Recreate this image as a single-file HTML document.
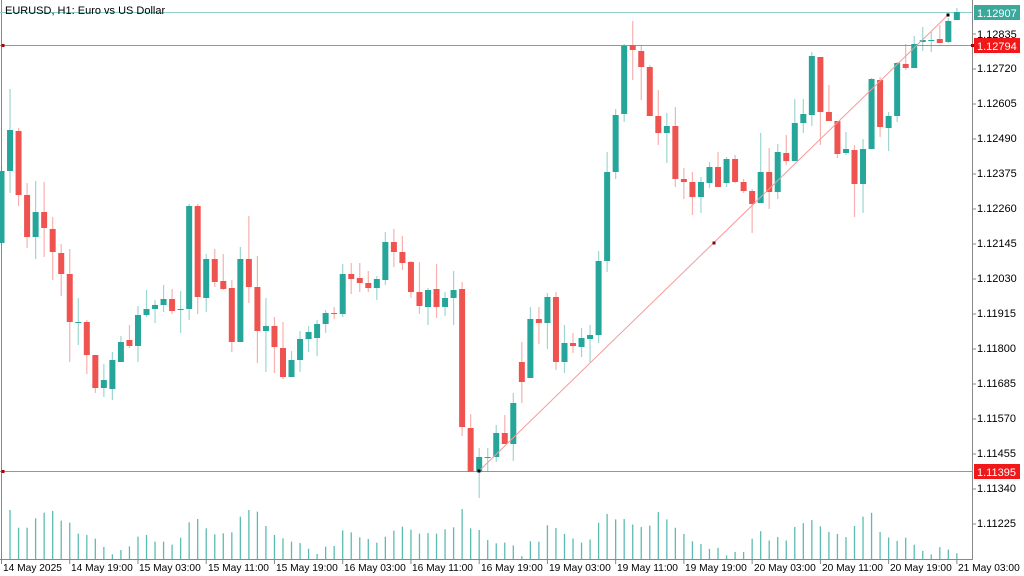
<!DOCTYPE html>
<html><head><meta charset="utf-8"><style>
html,body{margin:0;padding:0;background:#fff;width:1024px;height:576px;overflow:hidden}
svg{display:block;font-family:"Liberation Sans",Tahoma,sans-serif;font-size:11px}
</style></head><body>
<svg id="s" width="1024" height="576" xmlns="http://www.w3.org/2000/svg">
<rect x="0" y="0" width="1024" height="576" fill="#fff"/>
<line x1="1.5" y1="0" x2="1.5" y2="559" stroke="#888" stroke-width="1"/>
<line x1="972.5" y1="0" x2="972.5" y2="559" stroke="#888" stroke-width="1"/>
<line x1="0" y1="559.5" x2="973" y2="559.5" stroke="#888" stroke-width="1"/>
<line x1="0" y1="12.5" x2="972" y2="12.5" stroke="#8fd0c8" stroke-width="1"/>
<line x1="0" y1="45.5" x2="972" y2="45.5" stroke="#f07070" stroke-width="1"/>
<line x1="0" y1="471.5" x2="972" y2="471.5" stroke="#f07070" stroke-width="1"/>
<g id="c"></g>
<line x1="479" y1="471" x2="948" y2="15" stroke="#f49a9a" stroke-width="1"/>
<rect x="477.5" y="469.5" width="3" height="3" fill="#000"/>
<rect x="946.5" y="13.5" width="3" height="3" fill="#000"/>
<rect x="712.5" y="241.5" width="3" height="3" fill="#800"/>
<rect x="1.5" y="44" width="3" height="3" fill="#a00"/>
<rect x="1.5" y="470" width="3" height="3" fill="#a00"/>
<rect x="971" y="44" width="3" height="3" fill="#a00"/>
<text x="5" y="14" fill="#000">EURUSD, H1:  Euro vs US Dollar</text>
<g fill="#000" id="ax">
<text x="977" y="38">1.12835</text>
<text x="977" y="72">1.12720</text>
<text x="977" y="107">1.12605</text>
<text x="977" y="142">1.12490</text>
<text x="977" y="177">1.12375</text>
<text x="977" y="212">1.12260</text>
<text x="977" y="247">1.12145</text>
<text x="977" y="282">1.12030</text>
<text x="977" y="317">1.11915</text>
<text x="977" y="352">1.11800</text>
<text x="977" y="387">1.11685</text>
<text x="977" y="422">1.11570</text>
<text x="977" y="457">1.11455</text>
<text x="977" y="492">1.11340</text>
<text x="977" y="527">1.11225</text>
</g>
<rect x="974" y="5" width="46" height="15" fill="#3aa99c"/>
<text x="977" y="17" fill="#fff">1.12907</text>
<rect x="974" y="38" width="46" height="15" fill="#f01818"/>
<text x="977" y="50" fill="#fff">1.12794</text>
<rect x="974" y="464" width="46" height="15" fill="#f01818"/>
<text x="977" y="476" fill="#fff">1.11395</text>
<g fill="#000" id="tx" style="font-size:10.2px">
<text x="3" y="571">14 May 2025</text>
<text x="71" y="571">14 May 19:00</text>
<text x="139" y="571">15 May 03:00</text>
<text x="208" y="571">15 May 11:00</text>
<text x="276" y="571">15 May 19:00</text>
<text x="344" y="571">16 May 03:00</text>
<text x="412" y="571">16 May 11:00</text>
<text x="481" y="571">16 May 19:00</text>
<text x="549" y="571">19 May 03:00</text>
<text x="617" y="571">19 May 11:00</text>
<text x="685" y="571">19 May 19:00</text>
<text x="754" y="571">20 May 03:00</text>
<text x="822" y="571">20 May 11:00</text>
<text x="890" y="571">20 May 19:00</text>
<text x="958" y="571">21 May 03:00</text>
</g>
</svg>
<script>
var d="g171,243,165,243;g130,171,89,193;r131,195,128,206;r195,237,183,248;g212,237,181,259;r212,228,182,257;r229,252,217,280;r253,274,244,296;r274,322,249,362;g322,323,298,345;r322,355,320,374;r355,388,355,393;g380,388,364,397;g360,389,352,400;g342,362,336,362;r340,346,325,348;g315,346,306,362;g309,315,290,317;g305,309,300,323;g299,305,285,312;r299,311,289,314;g309,310,291,333;g206,309,204,320;r206,297,204,314;g259,298,254,312;r259,282,249,287;r281,289,254,290;r288,342,280,352;g259,342,247,342;r259,287,216,303;r287,331,256,363;g326,331,298,372;r326,347,317,373;r348,377,322,379;g360,377,351,377;g339,360,331,372;g332,339,326,352;g324,338,320,356;g313,324,310,333;r313,314,307,319;g274,314,264,317;r274,279,263,294;r278,283,263,292;r283,288,271,292;g279,288,276,300;g242,280,232,285;r242,252,229,267;r252,263,236,270;r262,292,261,298;r292,306,262,314;g290,307,288,325;r289,307,264,318;g298,307,292,316;g290,298,271,325;r289,427,282,436;r428,472,414,472;g457,472,448,498;g457,458,448,472;g433,457,425,462;r433,444,415,444;g403,444,393,461;r362,382,342,403;g319,378,307,378;r319,323,307,344;g297,323,293,349;r297,362,292,370;g343,362,325,373;r343,346,333,353;g338,347,328,357;g335,339,325,362;g261,335,251,343;g172,261,152,272;g115,172,109,179;g46,114,44,122;r45,50,21,80;r51,67,45,100;r67,116,65,116;r116,133,90,145;g126,133,113,163;r126,179,107,187;r179,182,168,199;r182,197,172,215;g182,197,177,213;g167,183,162,188;r167,187,152,187;g159,183,157,187;r159,182,155,183;r182,191,179,193;r191,204,189,233;g172,203,133,203;r172,192,148,209;g152,192,144,199;r153,161,135,165;g123,161,99,161;g114,123,99,133;g56,115,52,126;r57,112,57,145;r112,121,85,121;r121,154,121,158;g149,153,132,155;r150,184,145,217;g149,184,139,213;g79,149,78,149;r80,127,77,137;g116,128,112,151;g63,116,62,122;r64,68,44,70;g44,68,36,68;g40,42,27,51;g40,41,32,52;r39,43,25,43;g21,42,18,43;g12,20,8,20";
var v1=[30,83,83,55,38,33,62,68,101,105,116,141,163,150,139,110,105,125,125,134,113,67,57,85,103,100,97,50,30,35,78,105,115,125,129,146,162,140,138,91,97,112,117,128,110,92,80,89,101,99,101,88,82,27,85,90,120];
var v2=[125,123,131,162,119,120,73,81,98,111,123,114,66,40,56,55,71,78,74,35,56,80,98,119,127,141,138,160,150,150,112,90,117,107,117,78,67,58,76,92,98,107,75,48,37,92,108,118,109,129,147,157,136,143,154];
var G="#26a69a",R="#ef5350",h="";
d.split(";").forEach(function(s,i){
 var c=s[0]=="g"?G:R,a=s.slice(1).split(",").map(Number);
 var x=1.5+i*8.53, bt=a[0], bb=Math.max(a[1],a[0]+1);
 h+='<line x1="'+x+'" y1="'+a[2]+'" x2="'+x+'" y2="'+a[3]+'" stroke="'+c+'" stroke-opacity="0.45" stroke-width="1.2"/>';
 h+='<rect x="'+(x-3)+'" y="'+bt+'" width="6" height="'+(bb-bt)+'" fill="'+c+'"/>';
 var vt=null;
 if(i>=1&&i<=57)vt=500+v1[i-1]/3; else if(i>=58)vt=500+v2[i-58]/2.886;
 if(vt!==null)h+='<line x1="'+x+'" y1="'+vt+'" x2="'+x+'" y2="559" stroke="'+G+'" stroke-opacity="0.75" stroke-width="1.3"/>';
 if(i%8==0)h+='<line x1="'+x+'" y1="559" x2="'+x+'" y2="564" stroke="#888"/>';
});
for(var k=0;k<15;k++){var y=34+k*35;h+='<line x1="972" y1="'+y+'" x2="976" y2="'+y+'" stroke="#888"/>';}
document.getElementById("c").innerHTML=h;
</script>
</body></html>
